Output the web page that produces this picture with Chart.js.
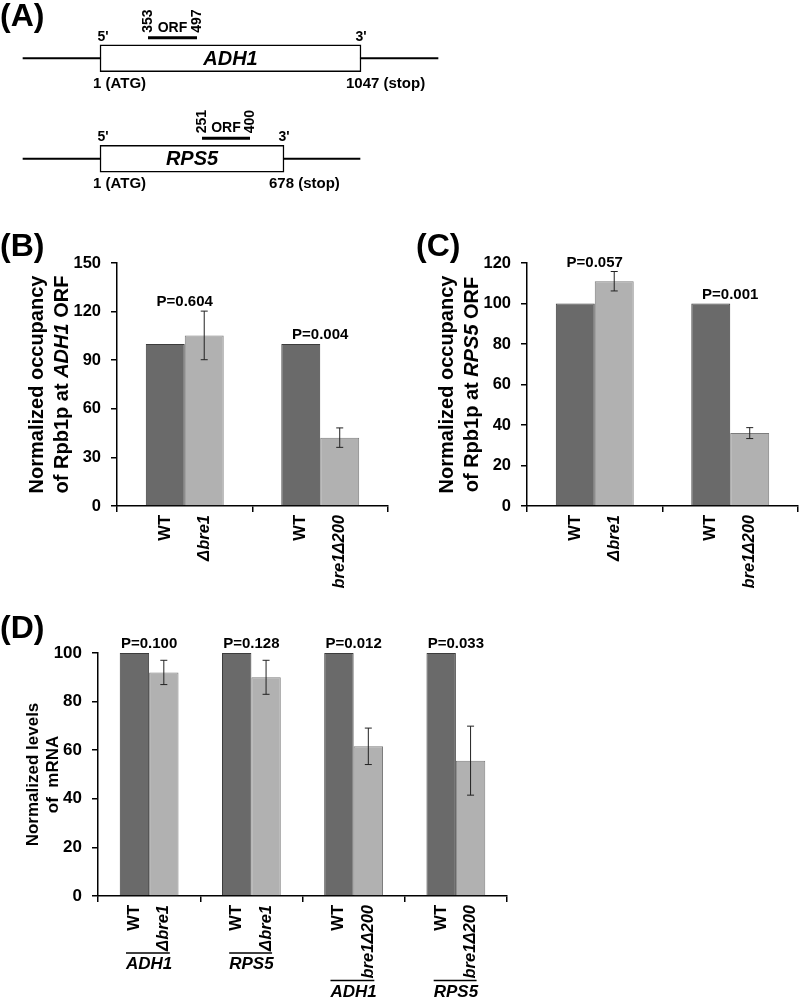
<!DOCTYPE html>
<html>
<head>
<meta charset="utf-8">
<script src="https://cdn.jsdelivr.net/npm/chart.js@4.4.1/dist/chart.umd.min.js"></script>
<style>
  body { margin: 0; background: #fff; }
  #page { position: relative; width: 800px; height: 1003px; font-family: 'Liberation Sans', Arial, sans-serif; }
  canvas { position: absolute; }
  .tag { position: absolute; font-weight: bold; font-size: 32px; line-height: 1; z-index: 2; }
</style>
</head>
<body>
<div id="page">
  <div class="tag" style="left:0;top:-1px">(A)</div>
  <div class="tag" style="left:0;top:229px">(B)</div>
  <div class="tag" style="left:416px;top:229px">(C)</div>
  <div class="tag" style="left:0;top:611px">(D)</div>
  <canvas id="chartA" width="450" height="212" style="left:0;top:0"></canvas>
  <canvas id="chartB" width="400" height="380" style="left:0;top:230px"></canvas>
  <canvas id="chartC" width="400" height="380" style="left:400px;top:230px"></canvas>
  <canvas id="chartD" width="520" height="398" style="left:0;top:605px"></canvas>
</div>
<script>
const FONT = "'Liberation Sans', Arial, sans-serif";
const DARK = '#6a6a6a';
const LIGHT = '#b1b1b1';

// (A) gene maps - schematic units, the drawing is not to scale
const genes = ['ADH1', 'RPS5'];
const flankSpan = [[23, 438], [23, 360]];
const boxSpan = [[100, 361], [100, 284]];
const orfSpan = [[148, 197], [202, 250]];
const orfEnds = [['353', '497'], ['251', '400']];
const startLabels = ['1 (ATG)', '1 (ATG)'];
const stopLabels = ['1047 (stop)', '678 (stop)'];

// (B) Rpb1p occupancy at ADH1 ORF
const bGroups = ['dbre1', 'bre1d200'];
const bWtLabels = ['WT', 'WT'];
const bMutLabels = ['Δbre1', 'bre1Δ200'];
const bWT = [100, 100];
const bMut = [105.3, 42.2];
const bMutErr = [15, 6];
const bP = ['P=0.604', 'P=0.004'];

// (C) Rpb1p occupancy at RPS5 ORF
const cGroups = ['dbre1', 'bre1d200'];
const cWtLabels = ['WT', 'WT'];
const cMutLabels = ['Δbre1', 'bre1Δ200'];
const cWT = [100, 100];
const cMut = [111, 36];
const cMutErr = [4.8, 2.7];
const cP = ['P=0.057', 'P=0.001'];

// (D) mRNA levels
const dGroups = ['ADH1 dbre1', 'RPS5 dbre1', 'ADH1 bre1d200', 'RPS5 bre1d200'];
const dGenes = ['ADH1', 'RPS5', 'ADH1', 'RPS5'];
const dWtLabels = ['WT', 'WT', 'WT', 'WT'];
const dMutLabels = ['Δbre1', 'Δbre1', 'bre1Δ200', 'bre1Δ200'];
const dWT = [100, 100, 100, 100];
const dMut = [92, 90, 61.6, 55.7];
const dMutErr = [5, 7, 7.5, 14.2];
const dP = ['P=0.100', 'P=0.128', 'P=0.012', 'P=0.033'];

const geneLabels = {
  id: 'geneLabels',
  afterDatasetsDraw(chart) {
    const { ctx, scales: { x, y } } = chart;
    genes.forEach((g, i) => {
      const cy = y.getPixelForValue(i);
      const top = cy - 13.5, bottom = cy + 13.5;
      const x0 = x.getPixelForValue(boxSpan[i][0]);
      const x1 = x.getPixelForValue(boxSpan[i][1]);
      const o0 = x.getPixelForValue(orfSpan[i][0]);
      const o1 = x.getPixelForValue(orfSpan[i][1]);
      const oy = top - 7;
      ctx.save();
      ctx.fillStyle = '#000';
      ctx.fillRect(o0, oy - 1.5, o1 - o0, 3);

      ctx.font = 'italic bold 20px ' + FONT;
      ctx.textAlign = 'center';
      ctx.textBaseline = 'middle';
      ctx.fillText(g, (x0 + x1) / 2, cy + 1);

      ctx.font = 'bold 14px ' + FONT;
      ctx.textBaseline = 'alphabetic';
      ctx.fillText("5'", x0 + 3, top - 4);
      ctx.fillText("3'", x1, top - 4);
      ctx.fillText('ORF', (o0 + o1) / 2, oy - 6);

      ctx.font = 'bold 15px ' + FONT;
      ctx.textAlign = 'left';
      ctx.fillText(startLabels[i], x0 - 7, bottom + 16);
      ctx.fillText(stopLabels[i], x1 - 15, bottom + 16);

      ctx.font = 'bold 14px ' + FONT;
      [o0, o1].forEach((px, k) => {
        ctx.save();
        ctx.translate(px, oy - 5);
        ctx.rotate(-Math.PI / 2);
        ctx.textAlign = 'left';
        ctx.textBaseline = 'middle';
        ctx.fillText(orfEnds[i][k], 0, 0);
        ctx.restore();
      });
      ctx.restore();
    });
  }
};

new Chart(document.getElementById('chartA'), {
  type: 'bar',
  data: {
    labels: genes,
    datasets: [
      { data: boxSpan, backgroundColor: '#fff', borderColor: '#000', borderWidth: 1.5,
        borderSkipped: false, barThickness: 27, grouped: false, order: 0 },
      { data: flankSpan, backgroundColor: '#000', barThickness: 1.5, grouped: false, order: 1 }
    ]
  },
  options: {
    indexAxis: 'y',
    responsive: false,
    animation: false,
    layout: { padding: { top: 8, bottom: 3 } },
    plugins: { legend: { display: false }, tooltip: { enabled: false } },
    scales: {
      x: { display: false, min: 0, max: 450 },
      y: { display: false }
    }
  },
  plugins: [geneLabels]
});

// draws rich text (array of [text, italic]) centred at 0,0
function richText(ctx, parts, size) {
  let total = 0;
  parts.forEach(p => {
    ctx.font = (p[1] ? 'italic ' : '') + 'bold ' + size + 'px ' + FONT;
    total += ctx.measureText(p[0]).width;
  });
  let pos = -total / 2;
  parts.forEach(p => {
    ctx.font = (p[1] ? 'italic ' : '') + 'bold ' + size + 'px ' + FONT;
    ctx.fillText(p[0], pos, 0);
    pos += ctx.measureText(p[0]).width;
  });
}

function decor(o) {
  return {
    id: 'decor',
    afterDraw(chart) {
      const { ctx, chartArea, scales: { x, y } } = chart;
      const wtMeta = chart.getDatasetMeta(0);
      const mutMeta = chart.getDatasetMeta(1);
      ctx.save();
      ctx.fillStyle = '#000';

      // error bars
      ctx.strokeStyle = '#222';
      ctx.lineWidth = 1;
      mutMeta.data.forEach((bar, i) => {
        const hi = y.getPixelForValue(o.mut[i] + o.err[i]);
        const lo = y.getPixelForValue(o.mut[i] - o.err[i]);
        ctx.beginPath();
        ctx.moveTo(bar.x, hi); ctx.lineTo(bar.x, lo);
        ctx.moveTo(bar.x - 3.5, hi); ctx.lineTo(bar.x + 3.5, hi);
        ctx.moveTo(bar.x - 3.5, lo); ctx.lineTo(bar.x + 3.5, lo);
        ctx.stroke();
      });

      // P values
      ctx.font = 'bold 15px ' + FONT;
      ctx.textAlign = 'center';
      ctx.textBaseline = 'alphabetic';
      o.p.forEach((t, i) => {
        const topVal = Math.max(o.wt[i], o.mut[i] + o.err[i]);
        ctx.fillText(t, x.getPixelForValue(i), y.getPixelForValue(topVal) - 5);
      });

      // rotated bar labels
      const axisY = x.top;
      const labelSize = 16.5;
      [[wtMeta, o.wtLabels, false], [mutMeta, o.mutLabels, true]].forEach(([meta, labels, ital]) => {
        ctx.font = (ital ? 'italic ' : '') + 'bold ' + labelSize + 'px ' + FONT;
        meta.data.forEach((bar, i) => {
          ctx.save();
          ctx.translate(bar.x, axisY + 9);
          ctx.rotate(-Math.PI / 2);
          ctx.textAlign = 'right';
          ctx.textBaseline = 'middle';
          ctx.fillText(labels[i], 0, 0);
          ctx.restore();
        });
      });

      // gene names under groups (panel D)
      if (o.genes) {
        ctx.font = 'italic bold ' + labelSize + 'px ' + FONT;
        o.genes.forEach((g, i) => {
          const mutBar = mutMeta.data[i];
          const lw = ctx.measureText(o.mutLabels[i]).width;
          const lineY = axisY + 9 + lw + 2;
          ctx.font = 'italic bold 17px ' + FONT;
          const gw = ctx.measureText(g).width;
          const cx = x.getPixelForValue(i);
          ctx.strokeStyle = '#000';
          ctx.lineWidth = 1.5;
          ctx.beginPath();
          ctx.moveTo(cx - gw / 2, lineY);
          ctx.lineTo(mutBar.x + 6, lineY);
          ctx.stroke();
          ctx.textAlign = 'center';
          ctx.textBaseline = 'top';
          ctx.fillText(g, cx, lineY + 3);
          ctx.font = 'italic bold ' + labelSize + 'px ' + FONT;
        });
      }

      // y title, two lines
      const midY = (chartArea.top + chartArea.bottom) / 2;
      o.title.forEach((parts, k) => {
        ctx.save();
        ctx.translate(o.titleX[k], midY);
        ctx.rotate(-Math.PI / 2);
        ctx.textAlign = 'left';
        ctx.textBaseline = 'middle';
        richText(ctx, parts, o.titleSize);
        ctx.restore();
      });
      ctx.restore();
    }
  };
}

function barPanel(id, o) {
  return new Chart(document.getElementById(id), {
    type: 'bar',
    data: {
      labels: o.groups,
      datasets: [
        { data: o.wt, backgroundColor: DARK, borderColor: '#3c3c3c', borderWidth: 1 },
        { data: o.mut, backgroundColor: LIGHT, borderColor: '#7c7c7c', borderWidth: 1 }
      ]
    },
    options: {
      responsive: false,
      animation: false,
      layout: { padding: { top: o.padTop, right: o.padRight } },
      datasets: { bar: { categoryPercentage: 0.575, barPercentage: 1 } },
      plugins: { legend: { display: false }, tooltip: { enabled: false } },
      scales: {
        x: {
          grid: { drawOnChartArea: false, tickLength: 6, color: '#000', lineWidth: 1.5 },
          border: { color: '#000', width: 1.5 },
          ticks: { display: false },
          afterFit: s => { s.height = o.xHeight; }
        },
        y: {
          min: 0, max: o.max,
          ticks: { stepSize: o.step, color: '#000', padding: 10,
                   font: { family: FONT, weight: 'bold', size: o.tickSize } },
          grid: { drawOnChartArea: false, tickLength: 6, color: '#000', lineWidth: 1.5 },
          border: { color: '#000', width: 1.5 },
          afterFit: s => { s.width = o.yWidth; }
        }
      }
    },
    plugins: [decor(o)]
  });
}

barPanel('chartB', {
  groups: bGroups, wt: bWT, mut: bMut, err: bMutErr, p: bP,
  wtLabels: bWtLabels, mutLabels: bMutLabels,
  max: 150, step: 30, tickSize: 16.5,
  padTop: 33, padRight: 12, xHeight: 104, yWidth: 117,
  titleX: [37, 62], titleSize: 20,
  title: [[['Normalized occupancy', false]],
          [['of Rpb1p at ', false], ['ADH1', true], [' ORF', false]]]
});

barPanel('chartC', {
  groups: cGroups, wt: cWT, mut: cMut, err: cMutErr, p: cP,
  wtLabels: cWtLabels, mutLabels: cMutLabels,
  max: 120, step: 20, tickSize: 16.5,
  padTop: 33, padRight: 2, xHeight: 104, yWidth: 127,
  titleX: [47, 72], titleSize: 20,
  title: [[['Normalized occupancy', false]],
          [['of Rpb1p at ', false], ['RPS5', true], [' ORF', false]]]
});

barPanel('chartD', {
  groups: dGroups, wt: dWT, mut: dMut, err: dMutErr, p: dP,
  wtLabels: dWtLabels, mutLabels: dMutLabels, genes: dGenes,
  max: 100, step: 20, tickSize: 17,
  padTop: 48, padRight: 13, xHeight: 107, yWidth: 98,
  titleX: [33, 53], titleSize: 17,
  title: [[['Normalized levels', false]],
          [['of  mRNA', false]]]
});
</script>
</body>
</html>
